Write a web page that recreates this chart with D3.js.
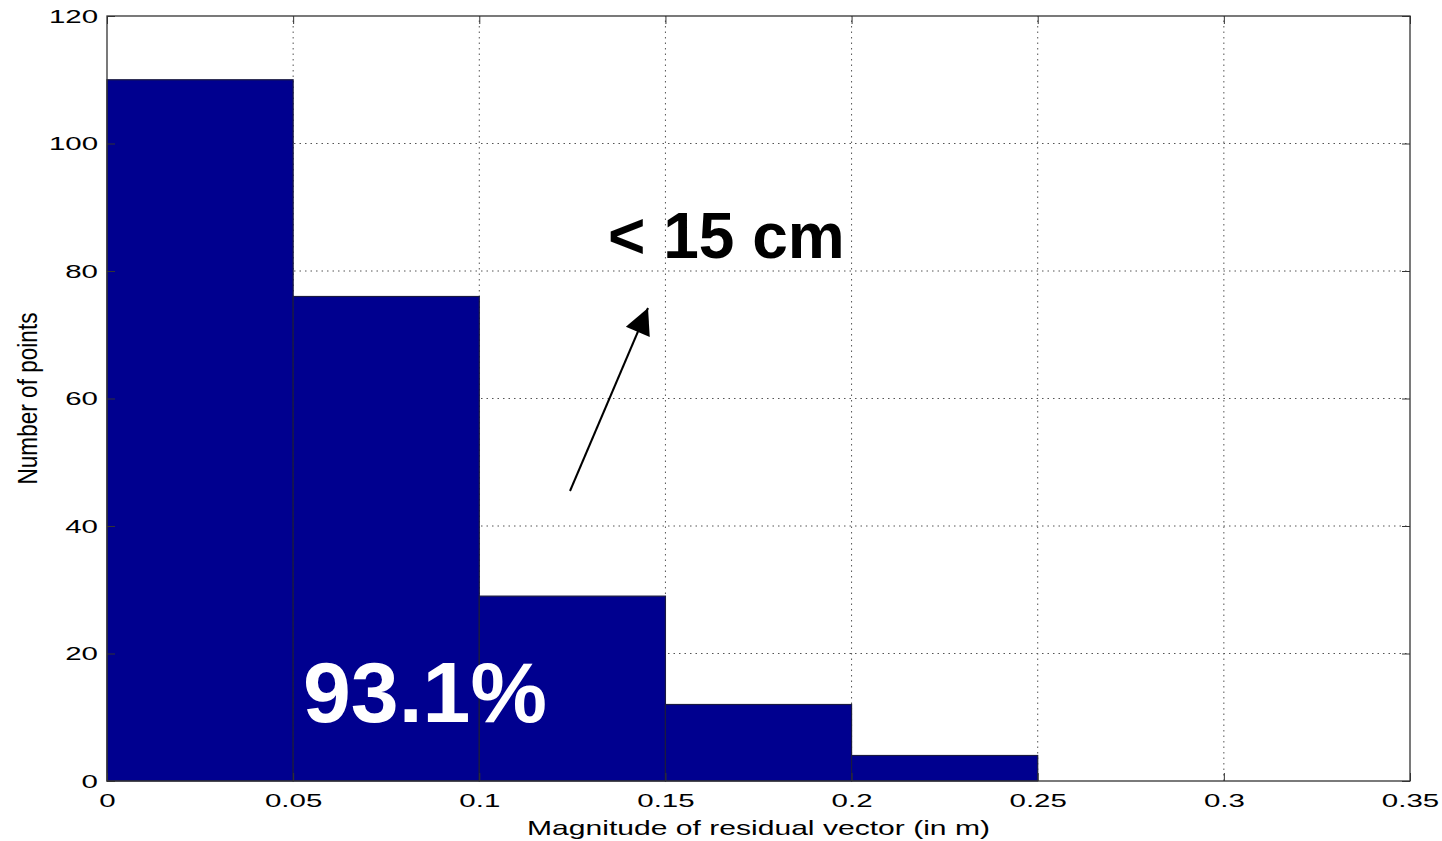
<!DOCTYPE html>
<html lang="en">
<head>
<meta charset="UTF-8">
<title>Residual histogram</title>
<script src="https://cdnjs.cloudflare.com/ajax/libs/d3/7.8.5/d3.min.js"></script>
<style>
  body { margin: 0; background: #fff; }
  svg { display: block; }
  .tick text { font: 19px "Liberation Sans", Arial, sans-serif; fill: #000; }
  .grid line { stroke: #555; stroke-dasharray: 1.5 4; stroke-width: 1; }
</style>
</head>
<body>
<div id="chart"></div>
<script>
// histogram bins (m) and counts
const binEdges = [0, 0.05, 0.1, 0.15, 0.2, 0.25];
const counts = [110, 76, 29, 12, 4];
const xTicks = [0, 0.05, 0.1, 0.15, 0.2, 0.25, 0.3, 0.35];
const yTicks = [0, 20, 40, 60, 80, 100, 120];

const W = 1442, H = 841;
const margin = {top: 16, right: 32, bottom: 60, left: 107};

const svg = d3.select("#chart").append("svg")
    .attr("width", W).attr("height", H);

const x = d3.scaleLinear().domain([0, 0.35]).range([margin.left, W - margin.right]);
const y = d3.scaleLinear().domain([0, 120]).range([H - margin.bottom, margin.top]);

// the old matlab export has wide, stretched glyphs
function stretch(sel, k) {
    sel.each(function () {
        const len = this.getComputedTextLength();
        d3.select(this).attr("textLength", len * k).attr("lengthAdjust", "spacingAndGlyphs");
    });
}

// grid (behind bars)
const grid = svg.append("g").attr("class", "grid");
grid.selectAll(".vx").data(xTicks.slice(1, -1)).enter().append("line")
    .attr("x1", d => x(d)).attr("x2", d => x(d))
    .attr("y1", y(0)).attr("y2", y(120));
grid.selectAll(".hy").data(yTicks.slice(1, -1)).enter().append("line")
    .attr("x1", x(0)).attr("x2", x(0.35))
    .attr("y1", d => y(d)).attr("y2", d => y(d));

// bars
svg.selectAll(".bar").data(counts).enter().append("rect")
    .attr("x", (d, i) => x(binEdges[i]))
    .attr("width", (d, i) => x(binEdges[i + 1]) - x(binEdges[i]))
    .attr("y", d => y(d))
    .attr("height", d => y(0) - y(d))
    .attr("fill", "#00008f")
    .attr("stroke", "#1a1a40")
    .attr("stroke-width", 1.2);

// axes, ticks pointing inward like matlab
const fmt = d => d === 0 ? "0" : String(+d.toFixed(2));
svg.append("g")
    .attr("transform", `translate(0,${y(0)})`)
    .call(d3.axisBottom(x).tickValues(xTicks).tickFormat(fmt).tickSizeInner(-8).tickSizeOuter(0).tickPadding(13))
    .call(g => g.select(".domain").remove())
    .call(g => g.selectAll(".tick line").attr("stroke", "#333"))
    .call(g => stretch(g.selectAll(".tick text"), 1.55));
svg.append("g")
    .attr("transform", `translate(0,${y(120)})`)
    .call(d3.axisTop(x).tickValues(xTicks).tickFormat("").tickSizeInner(-8).tickSizeOuter(0))
    .call(g => g.select(".domain").remove())
    .call(g => g.selectAll(".tick line").attr("stroke", "#333"));
svg.append("g")
    .attr("transform", `translate(${x(0)},0)`)
    .call(d3.axisLeft(y).tickValues(yTicks).tickSizeInner(-8).tickSizeOuter(0).tickPadding(9))
    .call(g => g.select(".domain").remove())
    .call(g => g.selectAll(".tick line").attr("stroke", "#333"))
    .call(g => stretch(g.selectAll(".tick text"), 1.55));
svg.append("g")
    .attr("transform", `translate(${x(0.35)},0)`)
    .call(d3.axisRight(y).tickValues(yTicks).tickFormat("").tickSizeInner(-8).tickSizeOuter(0))
    .call(g => g.select(".domain").remove())
    .call(g => g.selectAll(".tick line").attr("stroke", "#333"));

// box
svg.append("rect")
    .attr("x", x(0)).attr("y", y(120))
    .attr("width", x(0.35) - x(0)).attr("height", y(0) - y(120))
    .attr("fill", "none").attr("stroke", "#333").attr("stroke-width", 1.3);

// axis labels
svg.append("text")
    .attr("x", (x(0) + x(0.35)) / 2).attr("y", 835)
    .attr("text-anchor", "middle")
    .style("font", "21px 'Liberation Sans', Arial, sans-serif")
    .attr("textLength", 463).attr("lengthAdjust", "spacingAndGlyphs")
    .text("Magnitude of residual vector (in m)");
svg.append("text")
    .attr("transform", `translate(37,${(y(0) + y(120)) / 2}) rotate(-90)`)
    .attr("text-anchor", "middle")
    .style("font", "28px 'Liberation Sans', Arial, sans-serif")
    .attr("textLength", 172).attr("lengthAdjust", "spacingAndGlyphs")
    .text("Number of points");

// annotations
svg.append("defs").append("marker")
    .attr("id", "head")
    .attr("viewBox", "0 -5 10 10")
    .attr("refX", 10).attr("refY", 0)
    .attr("markerUnits", "userSpaceOnUse")
    .attr("markerWidth", 30).attr("markerHeight", 26)
    .attr("orient", "auto")
    .append("path").attr("d", "M0,-5L10,0L0,5Z").attr("fill", "#000");

svg.append("line")
    .attr("x1", 570).attr("y1", 491)
    .attr("x2", 648).attr("y2", 308)
    .attr("stroke", "#000").attr("stroke-width", 2)
    .attr("marker-end", "url(#head)");

svg.append("text")
    .attr("x", 608).attr("y", 258)
    .style("font", "bold 64px 'Liberation Sans', Arial, sans-serif")
    .text("< 15 cm");

svg.append("text")
    .attr("x", 303).attr("y", 722)
    .attr("fill", "#fff")
    .style("font", "bold 86px 'Liberation Sans', Arial, sans-serif")
    .text("93.1%");
</script>
</body>
</html>
